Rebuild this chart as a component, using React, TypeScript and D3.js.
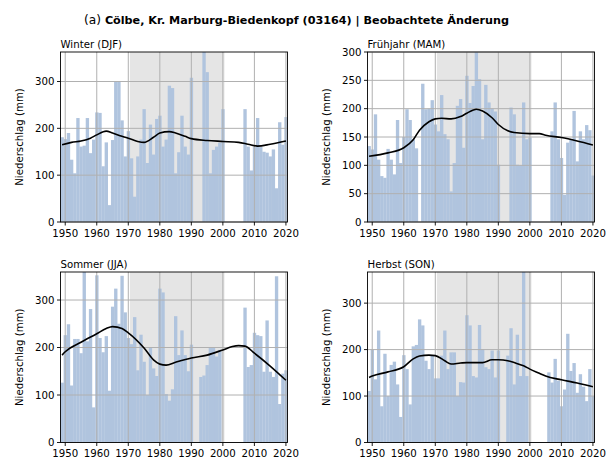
import React from 'react';
import * as d3 from 'd3';

const years = d3.range(1949, 2021);

const winter = [
  181, 177, 190, 133, 104, 222, 161, 163, 222, 147, 176, 234, 233, 119, 170, 36, 175, 300, 300, 217,
  140, 194, 136, 54, 140, 176, 241, 126, 208, 144, 220, 227, 161, 176, 291, 286, 104, 149, 227, 161,
  144, 308, null, null, null, 363, 320, 104, 154, 161, 169, 241, null, null, null, null, null, null,
  241, 161, 110, 160, 222, 160, 150, 148, 140, 155, 72, 213, 165, 224,
];
const spring = [
  134, 128, 190, 110, 81, 78, 129, 110, 84, 180, 104, 150, 199, 180, 146, 130, null, 244, 199, 200,
  215, 172, 160, 224, 155, 146, 54, 104, 205, 217, 131, 258, 210, 240, 300, 252, 146, 242, 211, 200,
  195, 101, null, null, null, 202, 190, 101, 100, 211, 146, 149, null, null, null, null, null, null,
  160, 211, 146, 113, 48, 140, 145, 196, 107, 160, 146, 171, 162, 82,
];
const summer = [
  126, 226, 249, 120, 218, 218, 188, 359, 213, 281, 74, 352, 220, 190, 224, 109, 286, 324, 250, 351,
  274, 220, 207, 264, 152, 227, 170, 100, 199, 156, 140, 324, 316, 102, 88, 112, 266, 184, 236, 184,
  150, 206, null, null, 138, 141, 163, 199, 199, 181, 195, null, null, null, null, null, null, null,
  284, 159, 163, 231, 226, 224, 149, 257, 149, 138, 350, 81, 145, 152,
];
const autumn = [
  111, 200, 136, 241, 78, 191, 100, 167, 174, 125, 55, 188, 158, 82, 207, 210, 265, 252, 176, 158,
  187, 138, 138, 187, 241, 158, 194, 194, 100, 130, 129, 274, 252, 143, 140, 253, 201, 162, 158, 198,
  140, 198, null, null, 187, 246, 125, 232, 143, 367, 143, null, null, null, null, null, null, 151,
  129, 180, 133, 78, 114, 234, 154, 171, 107, 147, 120, 89, 158, 100,
];

// smoothed trend
const winterTrendYears = [1949, 1952, 1955, 1958, 1960, 1963, 1965, 1968, 1970, 1973, 1975, 1978, 1980, 1983, 1985, 1988, 1990, 1995, 2000, 2005, 2008, 2011, 2015, 2020];
const winterTrend = [165, 170, 173, 179, 186, 194, 190, 183, 179, 172, 170, 181, 190, 193, 190, 183, 178, 174, 172, 170, 166, 162, 166, 173];
const springTrendYears = [1949, 1955, 1960, 1963, 1965, 1968, 1970, 1972, 1975, 1978, 1980, 1983, 1985, 1988, 1990, 1993, 1995, 2000, 2003, 2005, 2010, 2015, 2020];
const springTrend = [116, 122, 131, 145, 162, 177, 182, 183, 182, 186, 192, 199, 196, 184, 172, 161, 158, 156, 156, 153, 149, 143, 136];
const summerTrendYears = [1949, 1950, 1955, 1960, 1963, 1965, 1968, 1970, 1975, 1978, 1980, 1982, 1985, 1990, 1995, 2000, 2003, 2005, 2007, 2010, 2015, 2020];
const summerTrend = [184, 191, 211, 229, 240, 244, 240, 231, 199, 174, 165, 163, 169, 178, 184, 195, 202, 204, 203, 188, 161, 131];
const autumnTrendYears = [1949, 1950, 1955, 1960, 1963, 1965, 1968, 1970, 1973, 1975, 1978, 1980, 1985, 1988, 1990, 1993, 1995, 1998, 2000, 2003, 2005, 2010, 2015, 2020];
const autumnTrend = [140, 143, 152, 163, 180, 186, 188, 187, 176, 169, 171, 172, 172, 178, 178, 176, 172, 165, 158, 149, 143, 135, 128, 120];

const xTicks = [1950, 1960, 1970, 1980, 1990, 2000, 2010, 2020];
const yTicks100 = [0, 100, 200, 300];
const yTicks50 = [0, 50, 100, 150, 200, 250, 300];
const refPeriod = [1971, 2000];

const font = 'DejaVu Sans, sans-serif';

interface PanelProps {
  title: string;
  values: (number | null)[];
  trendYears: number[];
  trend: number[];
  yTicks: number[];
  left: number;
  top: number;
  width: number;
  height: number;
}

const Panel = ({ title, values, trendYears, trend, yTicks, left, top, width, height }: PanelProps) => {
  const x = d3.scaleLinear().domain([1948.5, 2020.5]).range([left, left + width]);
  const ymax = d3.max(values, (d) => d ?? 0) as number;
  const y = d3.scaleLinear().domain([0, ymax]).range([top + height, top]);
  const bw = x(1) - x(0);
  const line = d3
    .line<number>()
    .x((_, i) => x(trendYears[i]))
    .y((d) => y(d))
    .curve(d3.curveMonotoneX);
  const bottom = top + height;

  return (
    <g>
      <rect
        x={x(refPeriod[0] - 0.5)}
        y={top}
        width={x(refPeriod[1] + 0.5) - x(refPeriod[0] - 0.5)}
        height={height}
        fill="#e5e5e5"
      />
      {values.map((v, i) =>
        v == null ? null : (
          <rect key={i} x={x(years[i]) - bw / 2} y={y(v)} width={bw + 0.2} height={bottom - y(v)} fill="#b0c4de" />
        ),
      )}
      {xTicks.map((t) => (
        <line key={'gx' + t} x1={x(t)} x2={x(t)} y1={top} y2={bottom} stroke="#b0b0b0" strokeWidth={1} />
      ))}
      {yTicks.map((t) => (
        <line key={'gy' + t} x1={left} x2={left + width} y1={y(t)} y2={y(t)} stroke="#b0b0b0" strokeWidth={1} />
      ))}
      <path d={line(trend) ?? ''} fill="none" stroke="#000" strokeWidth={1.6} />
      <rect x={left} y={top} width={width} height={height} fill="none" stroke="#000" strokeWidth={0.9} />
      {xTicks.map((t) => (
        <g key={'tx' + t}>
          <line x1={x(t)} x2={x(t)} y1={bottom} y2={bottom + 3.5} stroke="#000" strokeWidth={0.9} />
          <text x={x(t)} y={bottom + 14.5} fontSize={10.2} textAnchor="middle" fontFamily={font}>
            {t}
          </text>
        </g>
      ))}
      {yTicks.map((t) => (
        <g key={'ty' + t}>
          <line x1={left - 3.5} x2={left} y1={y(t)} y2={y(t)} stroke="#000" strokeWidth={0.9} />
          <text x={left - 6} y={y(t) + 3.6} fontSize={10.2} textAnchor="end" fontFamily={font}>
            {t}
          </text>
        </g>
      ))}
      <text x={left} y={top - 4} fontSize={10.2} fontFamily={font}>
        {title}
      </text>
      <text
        transform={`translate(${left - 38},${top + height / 2}) rotate(-90)`}
        fontSize={10.2}
        textAnchor="middle"
        fontFamily={font}
      >
        Niederschlag (mm)
      </text>
    </g>
  );
};

const App = () => {
  const W = 611;
  const H = 473;
  return (
    <svg width={W} height={H} style={{ position: 'absolute', left: 0, top: 0, background: '#fff' }}>
      <rect width={W} height={H} fill="#fff" />
      <text x={84} y={24} fontFamily={font} fontSize={11.2}>
        <tspan fontSize={12.2}>(a)</tspan>
        <tspan fontWeight="bold"> Cölbe, Kr. Marburg-Biedenkopf (03164) | Beobachtete Änderung</tspan>
      </text>
      <Panel title="Winter (DJF)" values={winter} trendYears={winterTrendYears} trend={winterTrend} yTicks={yTicks100} left={60.5} top={52} width={227} height={170} />
      <Panel title="Frühjahr (MAM)" values={spring} trendYears={springTrendYears} trend={springTrend} yTicks={yTicks50} left={367.5} top={52} width={227} height={170} />
      <Panel title="Sommer (JJA)" values={summer} trendYears={summerTrendYears} trend={summerTrend} yTicks={yTicks100} left={60.5} top={272} width={227} height={170.5} />
      <Panel title="Herbst (SON)" values={autumn} trendYears={autumnTrendYears} trend={autumnTrend} yTicks={yTicks100} left={367.5} top={272} width={227} height={170.5} />
    </svg>
  );
};

export default App;
